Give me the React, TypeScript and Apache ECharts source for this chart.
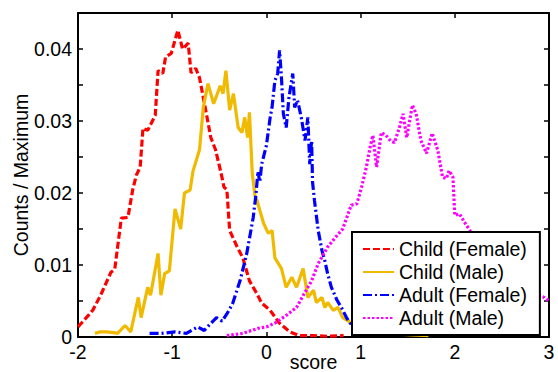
import { useEffect, useRef } from 'react';
import * as echarts from 'echarts';

const seriesNames = ['Child (Female)', 'Child (Male)', 'Adult (Female)', 'Adult (Male)'];
const xTicks = [-2, -1, 0, 1, 2, 3];

const childFemaleX = [-2, -1.89, -1.84, -1.76, -1.65, -1.61, -1.54, -1.47, -1.42, -1.38, -1.34, -1.31, -1.26, -1.18, -1.15, -1.1, -1.07, -1.01, -0.94, -0.89, -0.83, -0.8, -0.75, -0.71, -0.65, -0.59, -0.54, -0.48, -0.45, -0.42, -0.39, -0.31, -0.25, -0.18, -0.1, -0.05, 0.04, 0.14, 0.25, 0.35, 0.5, 0.65, 0.82];
const childFemaleY = [0.0014, 0.003, 0.0038, 0.0058, 0.009, 0.0094, 0.0165, 0.0166, 0.0204, 0.0225, 0.0236, 0.029, 0.0287, 0.0308, 0.037, 0.0366, 0.0389, 0.0394, 0.0426, 0.04, 0.0408, 0.0367, 0.0373, 0.036, 0.0319, 0.0277, 0.026, 0.0227, 0.0208, 0.0205, 0.0148, 0.0125, 0.011, 0.0078, 0.006, 0.0047, 0.0037, 0.0019, 0.0007, 0.0002, 0.0002, 0.0001, 0.0002];

const childMaleX = [-1.82, -1.77, -1.7, -1.62, -1.58, -1.5, -1.44, -1.36, -1.33, -1.26, -1.23, -1.15, -1.12, -1.08, -1.03, -0.97, -0.91, -0.87, -0.81, -0.78, -0.71, -0.67, -0.62, -0.56, -0.49, -0.46, -0.43, -0.39, -0.35, -0.3, -0.26, -0.23, -0.2, -0.18, -0.15, -0.12, -0.1, -0.07, -0.03, 0.02, 0.06, 0.09, 0.16, 0.21, 0.27, 0.32, 0.39, 0.44, 0.5, 0.53, 0.59, 0.62, 0.65, 0.71, 0.76, 0.81, 0.86, 0.95, 1.05, 1.2, 1.4, 1.55, 1.72];
const childMaleY = [0.0005, 0.0007, 0.0007, 0.0006, 0.0005, 0.0016, 0.0007, 0.0055, 0.0027, 0.0069, 0.0058, 0.0116, 0.0058, 0.0088, 0.0092, 0.0178, 0.015, 0.02, 0.0204, 0.023, 0.026, 0.0319, 0.0352, 0.0324, 0.0349, 0.0338, 0.037, 0.0315, 0.0338, 0.0291, 0.0284, 0.0305, 0.0277, 0.0312, 0.0227, 0.0195, 0.019, 0.0176, 0.0158, 0.0144, 0.0148, 0.011, 0.0095, 0.0069, 0.0083, 0.0069, 0.0095, 0.0055, 0.0065, 0.0048, 0.0055, 0.0041, 0.0048, 0.0037, 0.0041, 0.0027, 0.0023, 0.0015, 0.001, 0.0006, 0.0004, 0.0003, 0.0002];

const adultFemaleX = [-1.24, -1.12, -0.97, -0.85, -0.73, -0.66, -0.59, -0.53, -0.47, -0.42, -0.36, -0.28, -0.21, -0.14, -0.11, -0.09, -0.07, -0.05, 0, 0.04, 0.06, 0.09, 0.12, 0.14, 0.16, 0.18, 0.21, 0.24, 0.28, 0.3, 0.33, 0.37, 0.41, 0.44, 0.46, 0.48, 0.49, 0.51, 0.55, 0.59, 0.62, 0.65, 0.69, 0.75, 0.8, 0.85, 0.89, 1.0, 1.2];
const adultFemaleY = [0.0005, 0.0005, 0.0007, 0.0005, 0.0014, 0.0009, 0.0019, 0.0027, 0.0022, 0.0032, 0.0046, 0.0078, 0.0115, 0.0166, 0.0199, 0.023, 0.0215, 0.024, 0.0266, 0.0305, 0.0319, 0.0356, 0.0366, 0.0398, 0.036, 0.031, 0.0291, 0.0333, 0.0366, 0.0319, 0.0329, 0.0305, 0.0273, 0.0305, 0.024, 0.0273, 0.0215, 0.019, 0.0148, 0.012, 0.0106, 0.0088, 0.0069, 0.0051, 0.004, 0.0027, 0.0019, 0.0012, 0.0009];

const adultMaleX = [-0.42, -0.25, -0.09, 0, 0.1, 0.21, 0.32, 0.4, 0.48, 0.55, 0.65, 0.73, 0.81, 0.9, 0.96, 1.01, 1.06, 1.1, 1.13, 1.17, 1.22, 1.27, 1.32, 1.36, 1.41, 1.45, 1.49, 1.52, 1.55, 1.59, 1.64, 1.7, 1.76, 1.82, 1.87, 1.91, 1.94, 1.98, 2.0, 2.05, 2.1, 2.16, 2.25, 2.4, 2.6, 2.8, 2.95, 3.0];
const adultMaleY = [0.0002, 0.0005, 0.0012, 0.0014, 0.002, 0.003, 0.0041, 0.006, 0.0078, 0.0102, 0.0125, 0.0138, 0.015, 0.0183, 0.0185, 0.0208, 0.0235, 0.0263, 0.028, 0.0236, 0.0284, 0.028, 0.0272, 0.027, 0.029, 0.031, 0.0277, 0.03, 0.0322, 0.031, 0.0273, 0.0255, 0.0283, 0.0259, 0.0222, 0.022, 0.0231, 0.0222, 0.0169, 0.0171, 0.016, 0.0148, 0.012, 0.0095, 0.0075, 0.0062, 0.0055, 0.005];

function zip(xs: number[], ys: number[]) {
  return xs.map((x, i) => [x, ys[i]]);
}

export default function App() {
  const ref = useRef<HTMLDivElement>(null);
  useEffect(() => {
    const chart = echarts.init(ref.current!, null, { renderer: 'svg' });
    const font = '"Liberation Sans", Arial, Helvetica, sans-serif';
    const fs = 19.5;
    const lineAxis = { show: true, onZero: false, lineStyle: { color: '#000', width: 2 } };
    const tick = { show: true, inside: true, length: 5, lineStyle: { color: '#000', width: 1.5 } };
    const yFmt = (v: number) => {
      const r = Math.round(v * 100);
      if (Math.abs(v * 100 - r) > 1e-6) return '';
      return r === 0 ? '0' : (r / 100).toFixed(2);
    };
    chart.setOption({
      animation: false,
      backgroundColor: '#fff',
      textStyle: { fontFamily: font, color: '#000' },
      grid: { left: 78, right: 9, top: 13, bottom: 35, containLabel: false, outerBoundsMode: 'none' },
      legend: {
        orient: 'vertical',
        left: 352,
        top: 232,
        padding: [7, 13, 7, 10],
        itemWidth: 31,
        itemHeight: 12,
        itemGap: 3,
        backgroundColor: '#fff',
        borderColor: '#000',
        borderWidth: 2,
        borderRadius: 0,
        itemStyle: { color: 'rgba(0,0,0,0)', borderWidth: 0, opacity: 0 },
        textStyle: { fontFamily: font, fontSize: fs, lineHeight: 19, color: '#000' },
        data: seriesNames,
      },
      xAxis: [
        {
          type: 'value', min: -2, max: 3, interval: 1,
          name: 'score', nameLocation: 'middle', nameGap: 15, nameMoveOverlap: false,
          nameTextStyle: { fontFamily: font, fontSize: fs, color: '#000' },
          axisLine: lineAxis, axisTick: tick,
          axisLabel: { fontFamily: font, fontSize: fs, color: '#000', margin: 5, showMinLabel: true, showMaxLabel: true,
            formatter: (v: number) => (xTicks.includes(v) ? String(v) : '') },
          splitLine: { show: false },
        },
        {
          type: 'value', min: -2, max: 3, interval: 1, position: 'top',
          axisLine: lineAxis, axisTick: tick, axisLabel: { show: false }, splitLine: { show: false },
        },
      ],
      yAxis: [
        {
          type: 'value', min: 0, max: 0.045, interval: 0.005,
          name: 'Counts / Maximum', nameLocation: 'middle', nameGap: 47, nameMoveOverlap: false,
          nameTextStyle: { fontFamily: font, fontSize: fs, color: '#000' },
          axisLine: lineAxis, axisTick: tick,
          axisLabel: { fontFamily: font, fontSize: fs, color: '#000', margin: 6, formatter: yFmt },
          splitLine: { show: false },
        },
        {
          type: 'value', min: 0, max: 0.045, interval: 0.005, position: 'right',
          axisLine: lineAxis, axisTick: tick, axisLabel: { show: false }, splitLine: { show: false },
        },
      ],
      series: [
        {
          name: seriesNames[0], type: 'line', data: zip(childFemaleX, childFemaleY), symbol: 'none',
          lineStyle: { color: '#ff0000', width: 3.2, type: [7, 3] }, itemStyle: { color: '#ff0000' },
        },
        {
          name: seriesNames[1], type: 'line', data: zip(childMaleX, childMaleY), symbol: 'none',
          lineStyle: { color: '#F0BA00', width: 3.2, type: 'solid' }, itemStyle: { color: '#F0BA00' },
        },
        {
          name: seriesNames[2], type: 'line', data: zip(adultFemaleX, adultFemaleY), symbol: 'none',
          lineStyle: { color: '#0000ff', width: 3.2, type: [9, 3, 2, 3] }, itemStyle: { color: '#0000ff' },
        },
        {
          name: seriesNames[3], type: 'line', data: zip(adultMaleX, adultMaleY), symbol: 'none',
          lineStyle: { color: '#ff00ff', width: 3.2, type: [2.5, 2] }, itemStyle: { color: '#ff00ff' },
        },
      ],
    });
    return () => chart.dispose();
  }, []);
  return <div ref={ref} style={{ position: 'fixed', left: 0, top: 0, width: 558, height: 372 }} />;
}
